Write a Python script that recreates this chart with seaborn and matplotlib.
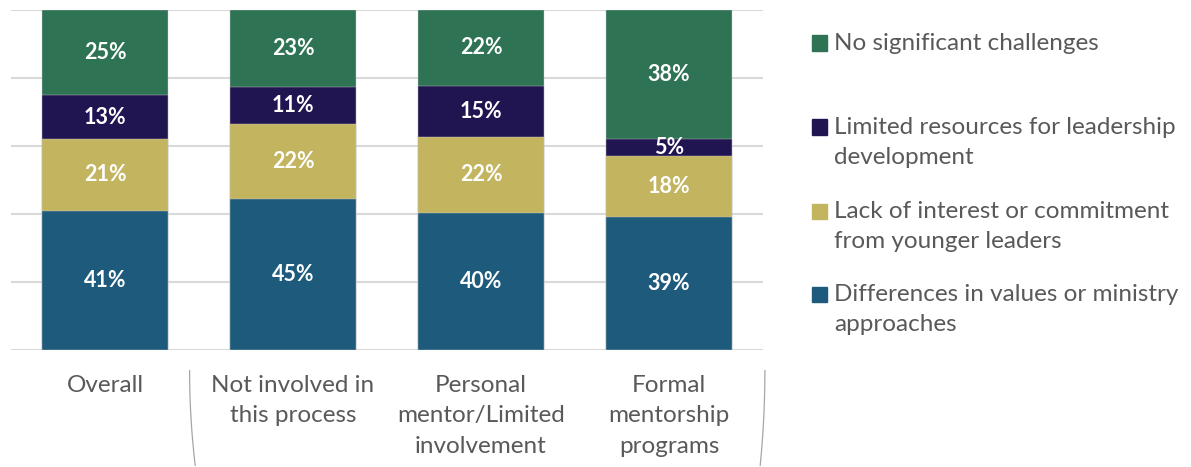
import numpy as np
import pandas as pd
import matplotlib
matplotlib.use("Agg")
import matplotlib.pyplot as plt
from matplotlib.patches import Rectangle
import seaborn as sns

# Survey results: share of respondents by main challenge, per mentorship group
groups = ["Overall", "Not involved in\nthis process",
          "Personal\nmentor/Limited\ninvolvement", "Formal\nmentorship\nprograms"]
differences = [41, 45, 40, 39]
lack_interest = [21, 22, 22, 18]
limited_resources = [13, 11, 15, 5]
no_challenges = [25, 23, 22, 38]

series_names = ["Differences in values or ministry\napproaches",
                "Lack of interest or commitment\nfrom younger leaders",
                "Limited resources for leadership\ndevelopment",
                "No significant challenges"]
series_colors = ["#1D5A7C", "#C3B560", "#211551", "#2E7353"]

sns.set_theme(style="white")
plt.rcParams["font.family"] = ["Lato", "DejaVu Sans"]

values = np.array([differences, lack_interest, limited_resources, no_challenges], dtype=float)
shares = values / values.sum(axis=0) * 100  # 100% stacked
cum = np.cumsum(shares, axis=0)

fig = plt.figure(figsize=(11.91, 4.67), dpi=100)
ax = fig.add_axes([11 / 1191, (467 - 350) / 467, 752 / 1191, 340 / 467])

# Gridlines behind the bars
for yv in np.arange(0, 101, 20):
    ax.axhline(yv, color="#D9D9D9", lw=1.5, zorder=0)

# Draw cumulative totals from the top segment down so each layer shows its own slice
for i in range(len(series_names) - 1, -1, -1):
    df = pd.DataFrame({"group": groups, "value": cum[i]})
    sns.barplot(data=df, x="group", y="value", color=series_colors[i],
                width=0.665, saturation=1, ax=ax, zorder=2,
                edgecolor="#c8c8c8", linewidth=0.3)

# Value labels centred in each segment
for i in range(len(series_names)):
    for j in range(len(groups)):
        bottom = cum[i, j] - shares[i, j]
        ax.text(j, bottom + shares[i, j] / 2, f"{int(values[i, j])}%",
                ha="center", va="center", color="white",
                fontsize=15.5, fontweight="bold", zorder=3)

ax.set_xlim(-0.5, 3.5)
ax.set_ylim(0, 100)
ax.set_yticks([])
ax.set_xlabel("")
ax.set_ylabel("")
for s in ax.spines.values():
    s.set_visible(False)
ax.tick_params(axis="x", length=0, pad=18, labelsize=17.5, labelcolor="#595959")
for lbl in ax.get_xticklabels():
    lbl.set_linespacing(1.55)

# Group separators under the axis
tr = ax.get_xaxis_transform()
t = np.linspace(0, 1, 30)
ax.plot(0.45 + 0.03 * t ** 2, -0.06 - 0.28 * t, color="#A6A6A6", lw=0.9,
        transform=tr, clip_on=False)
ax.plot(3.51 - 0.025 * t ** 2, -0.06 - 0.28 * t, color="#A6A6A6", lw=0.9,
        transform=tr, clip_on=False)

# Legend, listed top-down in stacking order
legend_y = [43, 127, 211, 294]
order = [3, 2, 1, 0]
for yv, idx in zip(legend_y, order):
    fig.patches.append(Rectangle((812 / 1191, 1 - (yv + 7.5) / 467), 15 / 1191, 15 / 467,
                                 transform=fig.transFigure, color=series_colors[idx]))
    fig.text(834 / 1191, 1 - (yv - 10) / 467, series_names[idx], ha="left", va="top",
             fontsize=17.5, color="#595959", linespacing=1.55)

fig.savefig("out.png", dpi=100)
